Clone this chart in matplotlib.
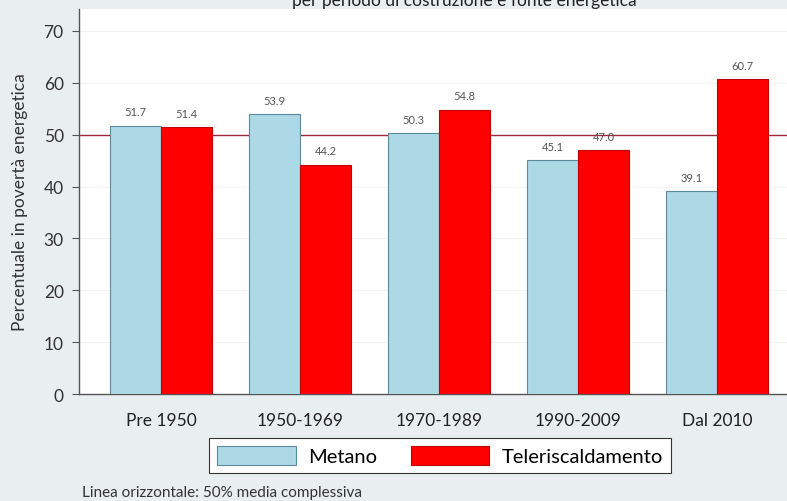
import matplotlib.pyplot as plt
import numpy as np

periods = ["Pre 1950", "1950-1969", "1970-1989", "1990-2009", "Dal 2010"]
metano = [51.7, 53.9, 50.3, 45.1, 39.1]
teleriscaldamento = [51.4, 44.2, 54.8, 47.0, 60.7]
media = 50

plt.rcParams["font.family"] = ["Lato", "DejaVu Sans"]

BG = "#e9eef0"
fig = plt.figure(figsize=(7.87, 5.02), dpi=100, facecolor=BG)
ax = fig.add_axes([0.1004, 0.213, 0.899, 0.767])
ax.set_facecolor("white")

x = np.arange(len(periods))
w = 0.367
b1 = ax.bar(x - w / 2, metano, w, color="#add8e6", edgecolor="#5a8a9c", linewidth=0.8, label="Metano", zorder=3)
b2 = ax.bar(x + w / 2, teleriscaldamento, w, color="#ff0000", edgecolor="#c00000", linewidth=0.8,
            label="Teleriscaldamento", zorder=3)

for bars, vals in [(b1, metano), (b2, teleriscaldamento)]:
    for rect, v in zip(bars, vals):
        ax.annotate(f"{v:.1f}", (rect.get_x() + rect.get_width() / 2, v), xytext=(0, 6),
                    textcoords="offset points", ha="center", va="bottom", fontsize=8, color="#555555")

ax.axhline(media, color="#a0283c", linewidth=1.0, zorder=2)

ax.set_ylim(0, 74.2)
ax.set_xlim(-0.59, 4.5)
ax.set_yticks(range(0, 71, 10))
ax.yaxis.grid(True, color="#f1f3f4", linewidth=0.8, zorder=0)
ax.set_xticks(x)
ax.set_xticklabels(periods)
ax.tick_params(axis="x", length=0, pad=13, labelsize=12.5, labelcolor="#222222")
ax.tick_params(axis="y", length=5, width=0.8, color="#555555", labelsize=12.5, labelcolor="#333333", pad=6)
for s in ["top", "right"]:
    ax.spines[s].set_visible(False)
ax.spines["left"].set_color("#555555")
ax.spines["bottom"].set_color("#555555")
ax.spines["left"].set_linewidth(1.0)
ax.spines["bottom"].set_linewidth(1.0)
ax.set_ylabel("Percentuale in povertà energetica", fontsize=12.5, color="#333333", labelpad=11)

leg = fig.legend(loc="center", bbox_to_anchor=(0.559, 0.0906), ncol=2, fontsize=14.5,
                 frameon=True, fancybox=False, edgecolor="#333333", facecolor="white", framealpha=1,
                 handlelength=3.9, handleheight=1.1, columnspacing=1.7, handletextpad=0.6,
                 borderpad=0.4, borderaxespad=0)
leg.get_frame().set_linewidth(0.8)

fig.text(0.59, 0.998, "per periodo di costruzione e fonte energetica", ha="center", va="center",
         fontsize=12.5, color="#222222")
fig.text(0.104, 0.018, "Linea orizzontale: 50% media complessiva", ha="left", va="center",
         fontsize=11, color="#333333")

fig.savefig("out.png", dpi=100, facecolor=BG)
